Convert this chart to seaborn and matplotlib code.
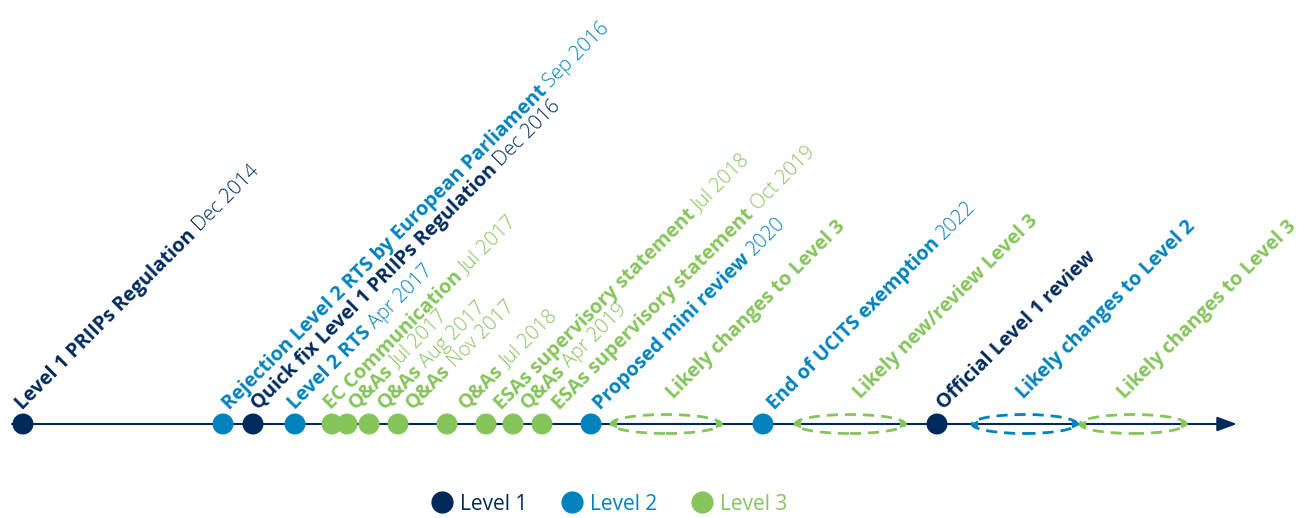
import pandas as pd
import matplotlib.pyplot as plt
import seaborn as sns
from matplotlib.patches import Ellipse
from matplotlib.transforms import offset_copy
import numpy as np

sns.set_style("white")
plt.rcParams["font.family"] = ["Open Sans", "DejaVu Sans"]

# Timeline events (position along the timeline)
event_titles = [
    "Level 1 PRIIPs Regulation",
    "Rejection Level 2 RTS by European Parliament",
    "Quick fix Level 1 PRIIPs Regulation",
    "Level 2 RTS",
    "EC Communication",
    "Q&As",
    "Q&As",
    "Q&As",
    "Q&As",
    "ESAs supervisory statement",
    "Q&As",
    "ESAs supervisory statement",
    "Proposed mini review",
    "End of UCITS exemption",
    "Official Level 1 review",
]
event_dates = [
    "Dec 2014", "Sep 2016", "Dec 2016", "Apr 2017", "Jul 2017", "Jul 2017",
    "Aug 2017", "Nov 2017", "Jul 2018", "Jul 2018", "Apr 2019", "Oct 2019",
    "2020", "2022", "",
]
event_levels = [
    "Level 1", "Level 2", "Level 1", "Level 2", "Level 3", "Level 3",
    "Level 3", "Level 3", "Level 3", "Level 3", "Level 3", "Level 3",
    "Level 2", "Level 2", "Level 1",
]
event_pos = [23, 223, 253, 295, 332, 347, 369, 398, 447, 486, 513, 542, 591, 763, 937]

# Expected periods (dashed ellipses)
period_titles = [
    "Likely changes to Level 3",
    "Likely new/review Level 3",
    "Likely changes to Level 2",
    "Likely changes to Level 3",
]
period_levels = ["Level 3", "Level 3", "Level 2", "Level 3"]
period_start = [611, 795, 972, 1080]
period_end = [721, 905, 1077, 1186]

# hand placed label nudges (pixels) so the slanted labels don't collide
event_label_nudge = [-8, -1, -2, -7, -8, 2, 9, 8, 12, 8, 8, 10, 2, 4, 0]
period_label_nudge = [0, 3, -8, -16]

palette = {"Level 1": "#002a5c", "Level 2": "#0082bd", "Level 3": "#86c45c"}
levels = ["Level 1", "Level 2", "Level 3"]

events = pd.DataFrame({
    "title": event_titles, "date": event_dates,
    "level": event_levels, "pos": event_pos,
})
events["y"] = 0

fig = plt.figure(figsize=(13.09, 5.18), dpi=100)
ax = fig.add_axes([0, 0, 1, 1])
ax.set_xlim(0, 1309)
ax.set_ylim(-94, 424)
ax.axis("off")

# Main timeline with arrow
ax.annotate("", xy=(1237, 0), xytext=(12, 0),
            arrowprops=dict(arrowstyle="-|>,head_length=0.6,head_width=0.22",
                            color=palette["Level 1"], lw=1.5,
                            mutation_scale=20, shrinkA=0, shrinkB=0),
            zorder=1)

# Dashed ellipses for the expected periods
for start, end, lvl in zip(period_start, period_end, period_levels):
    c = palette[lvl]
    ax.add_patch(Ellipse(((start + end) / 2, 0), end - start, 19, fill=False,
                         edgecolor=c, lw=2, linestyle=(0, (4, 2.5)), zorder=2))
    ax.plot([start + 2], [0], marker="<", color=c, markersize=4, zorder=3)
    ax.plot([end - 2], [0], marker=">", color=c, markersize=4, zorder=3)

# Event dots
sns.scatterplot(data=events, x="pos", y="y", hue="level", hue_order=levels,
                palette=palette, s=228, edgecolor="none", ax=ax, zorder=4)

renderer = fig.canvas.get_renderer()
cos45 = np.cos(np.pi / 4)
FS = 14.3
DX = 7  # rendered glyphs sit a bit left of the anchor


def timeline_label(x, y, title, date, color):
    ax.text(x + DX, y, title, rotation=45, rotation_mode="anchor", ha="left",
            va="baseline", fontsize=FS, fontweight="bold", color=color)
    if not date:
        return
    probe = ax.text(0, 0, title, fontsize=FS, fontweight="bold")
    w = probe.get_window_extent(renderer).width
    probe.remove()
    shift = (w + 5) * cos45
    tr = offset_copy(ax.transData, fig=fig, x=shift, y=shift, units="dots")
    ax.text(x + DX, y, date, rotation=45, rotation_mode="anchor", ha="left",
            va="baseline", fontsize=FS, fontweight="light", color=color,
            transform=tr)


for (_, row), nudge in zip(events.iterrows(), event_label_nudge):
    timeline_label(row["pos"] + nudge, 14, row["title"], row["date"], palette[row["level"]])

for start, end, title, lvl, nudge in zip(period_start, period_end, period_titles,
                                         period_levels, period_label_nudge):
    timeline_label((start + end) / 2 + nudge, 25, title, "", palette[lvl])

# Legend
sns.move_legend(ax, "center", bbox_to_anchor=(609 / 1309, 14 / 518),
                bbox_transform=fig.transFigure, ncol=3, frameon=False,
                title=None, fontsize=15, columnspacing=1.6, handlelength=1.1,
                handletextpad=0.3)
leg = ax.get_legend()
for h in leg.legend_handles:
    if hasattr(h, "set_markersize"):
        h.set_markersize(16)
    else:
        h.set_sizes([250])
for txt, lvl in zip(leg.get_texts(), levels):
    txt.set_color(palette[lvl])

plt.savefig("out.png", dpi=100)
